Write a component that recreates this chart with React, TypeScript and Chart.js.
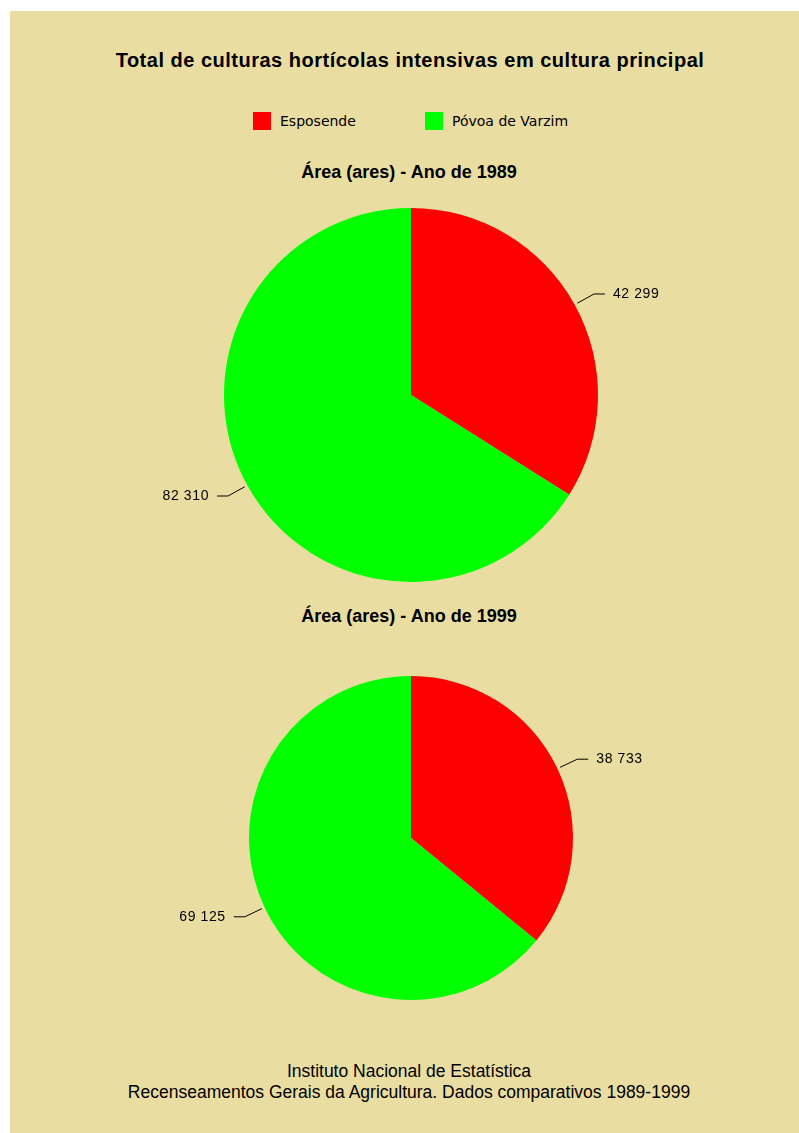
import React, { useEffect, useRef } from "react";
import { Chart, registerables } from "chart.js";

Chart.register(...registerables);

const categories = ["Esposende", "Póvoa de Varzim"];
const values1989 = [42299, 82310];
const values1999 = [38733, 69125];
const colors = ["#FF0000", "#00FF00"];
const mainTitle = "Total de culturas hortícolas intensivas em cultura principal";
const subtitle1989 = "Área (ares) - Ano de 1989";
const subtitle1999 = "Área (ares) - Ano de 1999";
const footer1 = "Instituto Nacional de Estatística";
const footer2 = "Recenseamentos Gerais da Agricultura. Dados comparativos 1989-1999";

const fmt = (v: number) => String(v).replace(/\B(?=(\d{3})+(?!\d))/g, " ");

const leaderPlugin = {
  id: "leaderLabels",
  afterDraw(chart: any) {
    const ctx = chart.ctx;
    const meta = chart.getDatasetMeta(0);
    const data = chart.data.datasets[0].data as number[];
    ctx.save();
    ctx.strokeStyle = "#000";
    ctx.lineWidth = 1;
    ctx.fillStyle = "#000";
    ctx.font = "14px 'Liberation Sans', Arial, sans-serif";
    try {
      (ctx as any).letterSpacing = "0.6px";
    } catch (e) {}
    ctx.textBaseline = "middle";
    meta.data.forEach((arc: any, i: number) => {
      const p = arc.getProps(["x", "y", "startAngle", "endAngle", "outerRadius"], true);
      const mid = (p.startAngle + p.endAngle) / 2;
      const c = Math.cos(mid);
      const s = Math.sin(mid);
      const x0 = p.x + c * (p.outerRadius + 3);
      const y0 = p.y + s * (p.outerRadius + 3);
      const x1 = p.x + c * (p.outerRadius + 22);
      const y1 = p.y + s * (p.outerRadius + 22);
      const dir = c >= 0 ? 1 : -1;
      const x2 = x1 + dir * 11;
      ctx.beginPath();
      ctx.moveTo(x0, y0);
      ctx.lineTo(x1, y1);
      ctx.lineTo(x2, y1);
      ctx.stroke();
      ctx.textAlign = dir > 0 ? "left" : "right";
      ctx.fillText(fmt(data[i]), x2 + dir * 8, y1);
    });
    ctx.restore();
  },
};

function PieCanvas(props: {
  values: number[];
  top: number;
  height: number;
  padding: { left: number; right: number; top: number; bottom: number };
}) {
  const ref = useRef<HTMLCanvasElement | null>(null);
  useEffect(() => {
    if (!ref.current) return;
    const chart = new Chart(ref.current, {
      type: "pie",
      data: {
        labels: categories,
        datasets: [
          {
            data: props.values,
            backgroundColor: colors,
            borderWidth: 0,
          },
        ],
      },
      options: {
        animation: false,
        responsive: false,
        devicePixelRatio: 1,
        layout: { padding: props.padding },
        plugins: {
          legend: { display: false },
          tooltip: { enabled: false },
          title: { display: false },
        },
      },
      plugins: [leaderPlugin],
    });
    return () => chart.destroy();
  }, []);
  return (
    <canvas
      ref={ref}
      width={799}
      height={props.height}
      style={{ position: "absolute", left: 0, top: props.top, width: 799, height: props.height }}
    />
  );
}

const textBase: React.CSSProperties = {
  position: "absolute",
  left: 0,
  width: 818,
  textAlign: "center",
  color: "#000",
  whiteSpace: "nowrap",
};

export default function App() {
  return (
    <div style={{ position: "absolute", left: 0, top: 0, width: 799, height: 1133, background: "#fff", overflow: "hidden" }}>
      <div style={{ position: "absolute", left: 10, top: 11, width: 789, height: 1122, background: "#EADDA1" }} />
      <div
        style={{
          ...textBase,
          width: 820,
          top: 47,
          lineHeight: "26px",
          fontFamily: "'Liberation Sans', Arial, sans-serif",
          fontWeight: "bold",
          fontSize: 20,
          letterSpacing: 0.5,
        }}
      >
        {mainTitle}
      </div>
      {categories.map((c, i) => (
        <div key={c} style={{ position: "absolute", left: i === 0 ? 253 : 425, top: 111, height: 20, display: "flex", alignItems: "center" }}>
          <div style={{ width: 18, height: 18, background: colors[i] }} />
          <span style={{ marginLeft: 9, fontFamily: "'DejaVu Sans', sans-serif", fontSize: 14, color: "#000" }}>{c}</span>
        </div>
      ))}
      <div
        style={{
          ...textBase,
          top: 161,
          lineHeight: "22px",
          fontFamily: "'Liberation Sans', Arial, sans-serif",
          fontWeight: "bold",
          fontSize: 18,
        }}
      >
        {subtitle1989}
      </div>
      <div
        style={{
          ...textBase,
          top: 605,
          lineHeight: "22px",
          fontFamily: "'Liberation Sans', Arial, sans-serif",
          fontWeight: "bold",
          fontSize: 18,
        }}
      >
        {subtitle1999}
      </div>
      <PieCanvas values={values1989} top={0} height={600} padding={{ left: 224, right: 201, top: 208, bottom: 18 }} />
      <PieCanvas values={values1999} top={600} height={450} padding={{ left: 249, right: 226, top: 76, bottom: 50 }} />
      <div
        style={{
          ...textBase,
          top: 1061,
          lineHeight: "21px",
          fontFamily: "'Liberation Sans', Arial, sans-serif",
          fontSize: 17.5,
        }}
      >
        {footer1}
        <br />
        {footer2}
      </div>
    </div>
  );
}
